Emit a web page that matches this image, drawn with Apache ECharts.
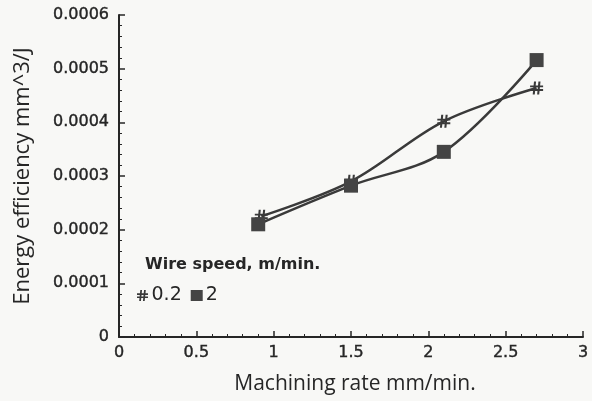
<!DOCTYPE html>
<html>
<head>
<meta charset="utf-8">
<script src="https://cdn.jsdelivr.net/npm/echarts@6/dist/echarts.min.js"></script>
<style>html,body{margin:0;padding:0;background:#f8f8f6;}#c{width:592px;height:401px;}</style>
</head>
<body>
<div id="c"></div>
<script>
const seriesNames = ['0.2', '2'];
const xStar = [0.92, 1.5, 2.1, 2.7];
const yStar = [0.000225, 0.00029, 0.000402, 0.000464];
const xSquare = [0.9, 1.5, 2.1, 2.7];
const ySquare = [0.00021, 0.000282, 0.000345, 0.000516];
const xTicks = [0, 0.5, 1, 1.5, 2, 2.5, 3];
const yTicks = [0, 0.0001, 0.0002, 0.0003, 0.0004, 0.0005, 0.0006];
const legendTitle = 'Wire speed, m/min.';
const xName = 'Machining rate mm/min.';
const yName = 'Energy efficiency mm^3/J';

const starPath = 'path://M3,0 L4.6,0 L3.6,10 L2,10 Z M6.4,0 L8,0 L7,10 L5.4,10 Z M0,3 L10,3 L10,4.5 L0,4.5 Z M0,5.8 L10,5.8 L10,7.3 L0,7.3 Z';
const ink = '#262626';
const lineCol = '#3a3a3a';

const chart = echarts.init(document.getElementById('c'));
const pair = (xs, ys) => xs.map((x, i) => [x, ys[i]]);
chart.setOption({
  backgroundColor: '#f8f8f6',
  animation: false,
  grid: { left: 119, top: 15, right: 9, bottom: 64, containLabel: false },
  xAxis: {
    type: 'value', min: xTicks[0], max: xTicks[xTicks.length - 1], interval: 0.5,
    name: xName, nameLocation: 'middle', nameGap: 37,
    nameTextStyle: { fontFamily: 'Open Sans', fontSize: 21, color: ink, padding: [0, 0, 0, 8] },
    axisLine: { lineStyle: { color: ink, width: 2 } },
    axisTick: { inside: true, length: 6, lineStyle: { color: ink, width: 1.5 } },
    minorTick: { show: true, splitNumber: 5, length: 3, lineStyle: { color: ink, width: 1 } },
    axisLabel: { fontFamily: 'DejaVu Sans', fontSize: 16, color: ink, margin: 8,
      textBorderColor: ink, textBorderWidth: 0.4 },
    splitLine: { show: false }
  },
  yAxis: {
    type: 'value', min: yTicks[0], max: yTicks[yTicks.length - 1], interval: 0.0001,
    name: yName, nameLocation: 'middle', nameGap: 85, nameRotate: 90,
    nameTextStyle: { fontFamily: 'Open Sans', fontSize: 22, color: ink },
    axisLine: { show: true, lineStyle: { color: ink, width: 2 } },
    axisTick: { show: true, inside: true, length: 6, lineStyle: { color: ink, width: 1.5 } },
    minorTick: { show: true, splitNumber: 5, length: 3, lineStyle: { color: ink, width: 1 } },
    axisLabel: { fontFamily: 'DejaVu Sans', fontSize: 16, color: ink, margin: 10,
      textBorderColor: ink, textBorderWidth: 0.4,
      formatter: v => v === 0 ? '0' : v.toFixed(4) },
    splitLine: { show: false }
  },
  legend: {
    left: 132, top: 281, itemGap: 9, itemWidth: 12, itemHeight: 11,
    textStyle: { fontFamily: 'DejaVu Sans', fontSize: 19, color: ink, padding: [0, 0, 0, -2] },
    data: [
      { name: seriesNames[0], icon: starPath },
      { name: seriesNames[1], icon: 'rect' }
    ]
  },
  graphic: [{
    type: 'text', left: 145, top: 257,
    style: { text: legendTitle, font: '900 16px "DejaVu Sans"', fill: ink }
  }],
  series: [
    {
      name: seriesNames[0], type: 'line', smooth: 0.35, data: pair(xStar, yStar),
      symbol: starPath, symbolSize: 13,
      lineStyle: { color: lineCol, width: 2.5 },
      itemStyle: { color: lineCol }
    },
    {
      name: seriesNames[1], type: 'line', smooth: 0.35, data: pair(xSquare, ySquare),
      symbol: 'rect', symbolSize: 14,
      lineStyle: { color: lineCol, width: 2.5 },
      itemStyle: { color: '#444' }
    }
  ]
});
</script>
</body>
</html>
